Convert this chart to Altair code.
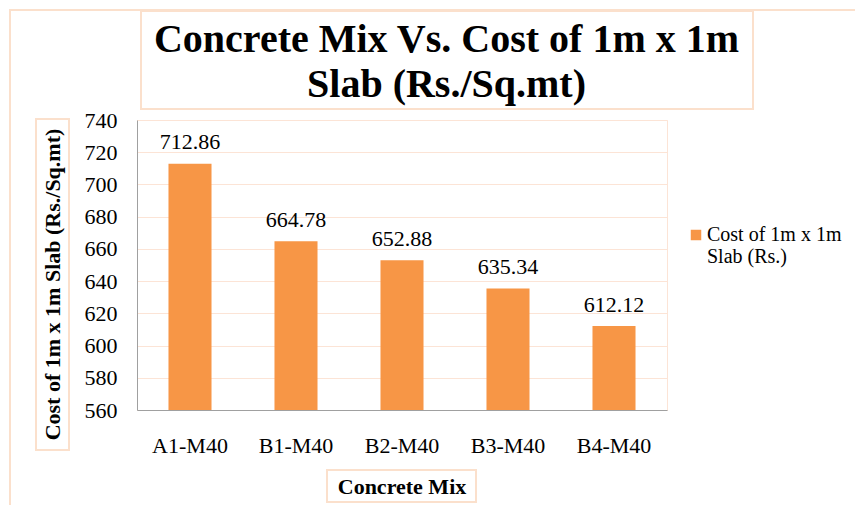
import altair as alt
import pandas as pd

# ---- data ----
mixes = ["A1-M40", "B1-M40", "B2-M40", "B3-M40", "B4-M40"]
costs = [712.86, 664.78, 652.88, 635.34, 612.12]
series_name = "Cost of 1m x 1m Slab (Rs.)"
y_ticks = [560, 580, 600, 620, 640, 660, 680, 700, 720, 740]
title_lines = ["Concrete Mix Vs. Cost of 1m x 1m", "Slab (Rs./Sq.mt)"]
x_title = "Concrete Mix"
y_title = "Cost of 1m x 1m Slab (Rs./Sq.mt)"

df = pd.DataFrame({"mix": mixes, "cost": costs, "series": [series_name] * len(mixes)})

FONT = "Liberation Serif"
ORANGE = "#F79646"
PEACH = "#FCE4D6"
BOX = "#FBE0CC"
GRAY = "#A0A0A0"

x_enc = alt.X(
    "mix:N",
    sort=mixes,
    scale=alt.Scale(paddingInner=0.594, paddingOuter=0.297),
    axis=alt.Axis(
        title=x_title, labelAngle=0, ticks=False, labelPadding=25,
        labelFont=FONT, labelFontSize=22, labelColor="black",
        domainColor=GRAY, domainWidth=1,
        titleFont=FONT, titleFontSize=22, titleFontWeight="bold", titleColor="black",
        titleX=264.5, titleY=76.5, titleAlign="center", titleBaseline="middle",
    ),
)
y_enc = alt.Y(
    "cost:Q",
    scale=alt.Scale(domain=[560, 740], nice=False, zero=False),
    axis=alt.Axis(
        values=y_ticks, tickCount=len(y_ticks), title=y_title, ticks=False, labelPadding=20,
        labelOverlap=False,
        labelFont=FONT, labelFontSize=22, labelColor="black",
        grid=True, gridColor=PEACH, gridWidth=1,
        domainColor=GRAY, domainWidth=1,
        titleFont=FONT, titleFontSize=22, titleFontWeight="bold", titleColor="black",
        titleX=-85, titleY=164, titleAngle=270, titleAlign="center", titleBaseline="middle",
    ),
)
color_enc = alt.Color(
    "series:N",
    scale=alt.Scale(range=[ORANGE]),
    legend=alt.Legend(
        title=None, orient="none", legendX=549, legendY=105,
        symbolType="square", symbolSize=110, symbolStrokeWidth=0,
        labelFont=FONT, labelFontSize=20, labelColor="black", labelLimit=300,
        labelOffset=1,
        labelExpr="[slice(datum.label, 0, 15), slice(datum.label, 16)]",
        labelBaseline="middle",
    ),
)

base = alt.Chart(df)
bars = base.mark_bar(clip=True).encode(x=x_enc, y=y_enc, color=color_enc)
labels = base.mark_text(
    baseline="alphabetic", dy=-14.5, font=FONT, fontSize=22, color="black"
).encode(x=x_enc, y=y_enc, text=alt.Text("cost:Q", format=".2f"))


def box(x1, x2, y1, y2, width=2):
    return alt.Chart(alt.Data(values=[{"k": 1}])).mark_rect(
        fill="transparent", stroke=BOX, strokeWidth=width
    ).encode(x=alt.value(x1), x2=alt.value(x2), y=alt.value(y1), y2=alt.value(y2))


outer = box(-127, 730, -110, 400, 2)
title_box = box(4, 616, -109, -11, 2)
ytitle_box = box(-101, -68, -1, 330, 2)
xtitle_box = box(190, 339, 350, 382, 2)

title = alt.Chart(alt.Data(values=[{"t": "\n".join(title_lines)}])).mark_text(
    font=FONT, fontSize=40, fontWeight="bold", color="black",
    align="center", baseline="alphabetic", lineBreak="\n", lineHeight=45,
).encode(x=alt.value(309.5), y=alt.value(-68), text="t:N")

chart = alt.layer(
    outer, title_box, ytitle_box, xtitle_box, bars, labels, title
).properties(
    width=530, height=290,
    autosize=alt.AutoSizeParams(type="none"),
    padding={"left": 129, "top": 112, "right": 188, "bottom": 95},
).configure(font=FONT).configure_view(stroke=PEACH, strokeWidth=1)

chart.save("out.html", embed_options={"renderer": "svg", "actions": False})
